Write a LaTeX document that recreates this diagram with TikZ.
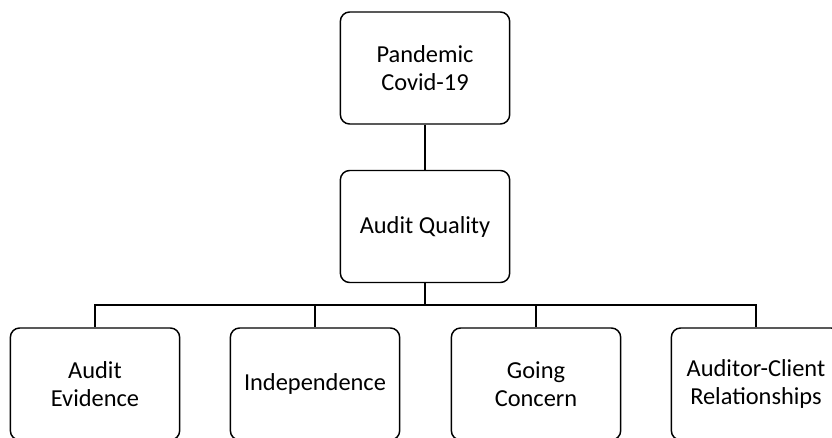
\documentclass[tikz,border=0pt]{standalone}
\usepackage{fontspec}
\setmainfont{Carlito}
\usetikzlibrary{positioning}

\begin{document}
\begin{tikzpicture}[
		x=0.75pt, y=-0.75pt,
		basic/.style  = {draw, line width=1.1pt, rectangle, rounded corners=7pt, align=center,
			minimum width=127pt, minimum height=84pt, inner sep=2pt,
			font=\fontsize{18.3}{21}\selectfont},
		top/.style    = {basic},
		leaf/.style   = {basic},
		link/.style   = {draw, line width=1.1pt}]

		% picture frame, the bottom row runs past it
		\useasboundingbox (0,0) rectangle (832,437);
		\clip (0,0) rectangle (832,437);

		% the two upper boxes
		\node[top] (c0) at (425,68) {Pandemic\\Covid-19};
		\node[top] (c00) at (425,226.5) {Audit Quality};

		% the bottom row
		\begin{scope}[every node/.style={leaf}]
		\node (c1) at (95,384) {Audit\\Evidence};
		\node (c2) at (315,384) {Independence};
		\node (c3) at (536,384) {Going\\Concern};
		\node (c4) at (756,384) {Auditor-Client\\Relationships};
		\end{scope}

		% the connectors
		\coordinate (bar) at (425,305);
		\draw[link] (c0) -- (c00);
		\draw[link] (c00) -- (bar);
		\foreach \value in {1,...,4}
		\draw[link] (bar) -| (c\value.north);

	\end{tikzpicture}
\end{document}
